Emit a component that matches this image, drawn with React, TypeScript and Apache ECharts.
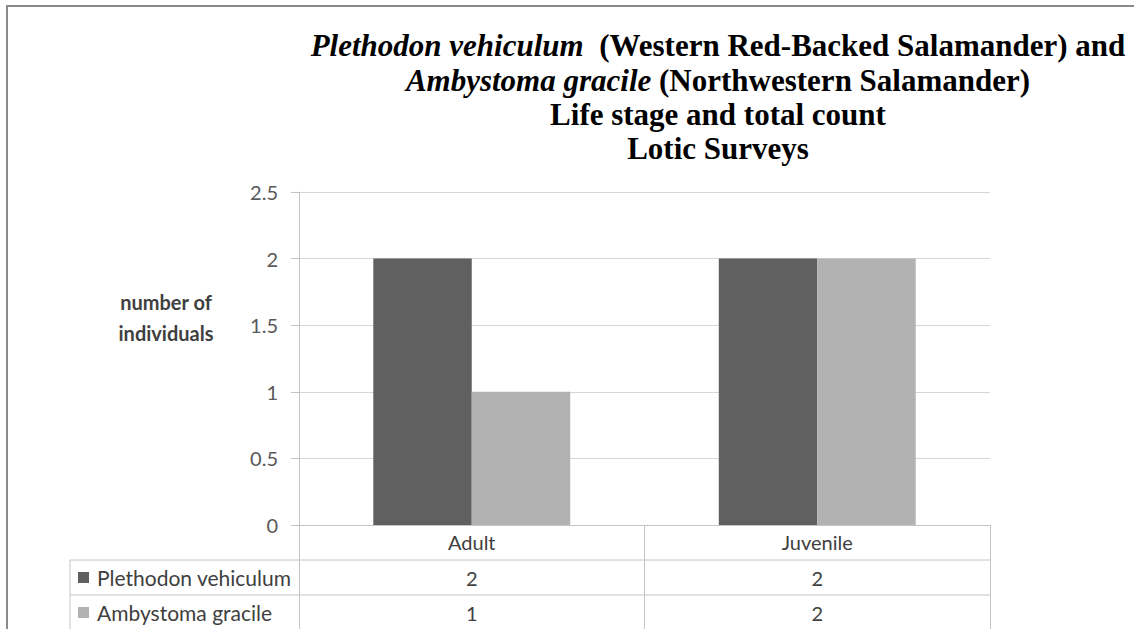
import React, { useEffect, useRef } from "react";
import * as echarts from "echarts";

const categories = ["Adult", "Juvenile"];
const seriesNames = ["Plethodon vehiculum", "Ambystoma gracile"];
const plethodonValues = [2, 2];
const ambystomaValues = [1, 2];
const yMin = 0;
const yMax = 2.5;
const yInterval = 0.5;
const titleLine1Italic = "Plethodon vehiculum";
const titleLine1Rest = "  (Western Red-Backed Salamander) and";
const titleLine2Italic = "Ambystoma gracile";
const titleLine2Rest = " (Northwestern Salamander)";
const titleLine3 = "Life stage and total count";
const titleLine4 = "Lotic Surveys";
const yAxisTitle = "number of\nindividuals";

const W = 1134;
const H = 629;
const GRID_LEFT = 299;
const GRID_RIGHT_X = 990;
const GRID_TOP = 192;
const GRID_BOTTOM_Y = 525;
const ROW_H = 35;
const TABLE_LEFT = 70;
const SANS = "Lato, 'Open Sans', sans-serif";
const SERIF = "'Liberation Serif', 'DejaVu Serif', serif";
const DARK = "#606060";
const LIGHT = "#b2b2b2";
const TEXT = "#404040";
const LINE = "#c4c4c4";

export default function App() {
  const ref = useRef<HTMLDivElement>(null);
  useEffect(() => {
    if (!ref.current) return;
    const chart = echarts.init(ref.current, null, { renderer: "svg" });
    const titleFont = { fontFamily: SERIF, fontWeight: "bold", fontSize: 31, fill: "#000" };
    const tableAxis = (offset: number, values: number[]) => ({
      type: "category",
      data: categories,
      position: "bottom",
      offset,
      axisLine: { show: false },
      axisTick: { show: false },
      axisLabel: {
        margin: 8,
        fontSize: 20,
        lineHeight: 20,
        fontFamily: SANS,
        color: TEXT,
        formatter: (_v: string, i: number) => String(values[i]),
      },
    });
    chart.setOption({
      animation: false,
      backgroundColor: "#fff",
      grid: {
        left: GRID_LEFT,
        right: W - GRID_RIGHT_X,
        top: GRID_TOP,
        bottom: H - GRID_BOTTOM_Y,
        containLabel: false,
      },
      legend: {
        orient: "vertical",
        left: 78,
        top: 567,
        height: 80,
        padding: 0,
        itemWidth: 11,
        itemHeight: 11,
        itemGap: 14,
        icon: "rect",
        data: seriesNames,
        textStyle: {
          fontSize: 21,
          lineHeight: 21,
          fontFamily: SANS,
          color: TEXT,
          padding: [0, 0, 0, 3],
        },
        selectedMode: false,
      },
      xAxis: [
        {
          type: "category",
          data: categories,
          position: "bottom",
          axisLine: { show: true, lineStyle: { color: LINE, width: 1 } },
          axisTick: { show: true, length: H - GRID_BOTTOM_Y, lineStyle: { color: LINE } },
          axisLabel: { margin: 7, fontSize: 20, lineHeight: 20, fontFamily: SANS, color: TEXT },
        },
        tableAxis(ROW_H, plethodonValues),
        tableAxis(ROW_H * 2, ambystomaValues),
      ],
      yAxis: {
        type: "value",
        min: yMin,
        max: yMax,
        interval: yInterval,
        axisLine: { show: true, lineStyle: { color: LINE } },
        axisTick: { show: true, length: 8, lineStyle: { color: LINE } },
        splitLine: { lineStyle: { color: "#d6d6d6" } },
        axisLabel: { margin: 21, fontSize: 20, fontFamily: SANS, color: "#595959" },
      },
      series: [
        {
          name: seriesNames[0],
          type: "bar",
          data: plethodonValues,
          itemStyle: { color: DARK },
          barGap: "0%",
          barCategoryGap: "43%",
        },
        {
          name: seriesNames[1],
          type: "bar",
          data: ambystomaValues,
          itemStyle: { color: LIGHT },
          barGap: "0%",
          barCategoryGap: "43%",
        },
      ],
      graphic: [
        {
          type: "rect",
          shape: { x: 7, y: 6, width: W + 20, height: H + 20 },
          style: { fill: "none", stroke: "#8a8a8a", lineWidth: 2 },
          silent: true,
        },
        {
          type: "text",
          x: 718,
          y: 45,
          style: {
            text: `{i|${titleLine1Italic}}{n|${titleLine1Rest}}`,
            align: "center",
            verticalAlign: "middle",
            rich: {
              i: { ...titleFont, fontStyle: "italic" },
              n: { ...titleFont },
            },
          },
        },
        {
          type: "text",
          x: 718,
          y: 80,
          style: {
            text: `{i|${titleLine2Italic}}{n|${titleLine2Rest}}`,
            align: "center",
            verticalAlign: "middle",
            rich: {
              i: { ...titleFont, fontStyle: "italic" },
              n: { ...titleFont },
            },
          },
        },
        {
          type: "text",
          x: 718,
          y: 114,
          style: { text: titleLine3, align: "center", verticalAlign: "middle", ...titleFont },
        },
        {
          type: "text",
          x: 718,
          y: 148,
          style: { text: titleLine4, align: "center", verticalAlign: "middle", ...titleFont },
        },
        {
          type: "text",
          x: 166,
          y: 317,
          style: {
            text: yAxisTitle,
            align: "center",
            verticalAlign: "middle",
            fontFamily: SANS,
            fontWeight: "bold",
            fontSize: 20,
            lineHeight: 31,
            fill: TEXT,
          },
        },
        {
          type: "line",
          shape: { x1: TABLE_LEFT, y1: GRID_BOTTOM_Y + ROW_H, x2: GRID_RIGHT_X, y2: GRID_BOTTOM_Y + ROW_H },
          style: { stroke: LINE, lineWidth: 1 },
          silent: true,
        },
        {
          type: "line",
          shape: { x1: TABLE_LEFT, y1: GRID_BOTTOM_Y + ROW_H * 2, x2: GRID_RIGHT_X, y2: GRID_BOTTOM_Y + ROW_H * 2 },
          style: { stroke: LINE, lineWidth: 1 },
          silent: true,
        },
        {
          type: "line",
          shape: { x1: TABLE_LEFT, y1: GRID_BOTTOM_Y + ROW_H, x2: TABLE_LEFT, y2: H },
          style: { stroke: LINE, lineWidth: 1 },
          silent: true,
        },
      ],
    });
    return () => chart.dispose();
  }, []);
  return (
    <div
      ref={ref}
      style={{ position: "fixed", left: 0, top: 0, width: W, height: H }}
    />
  );
}
